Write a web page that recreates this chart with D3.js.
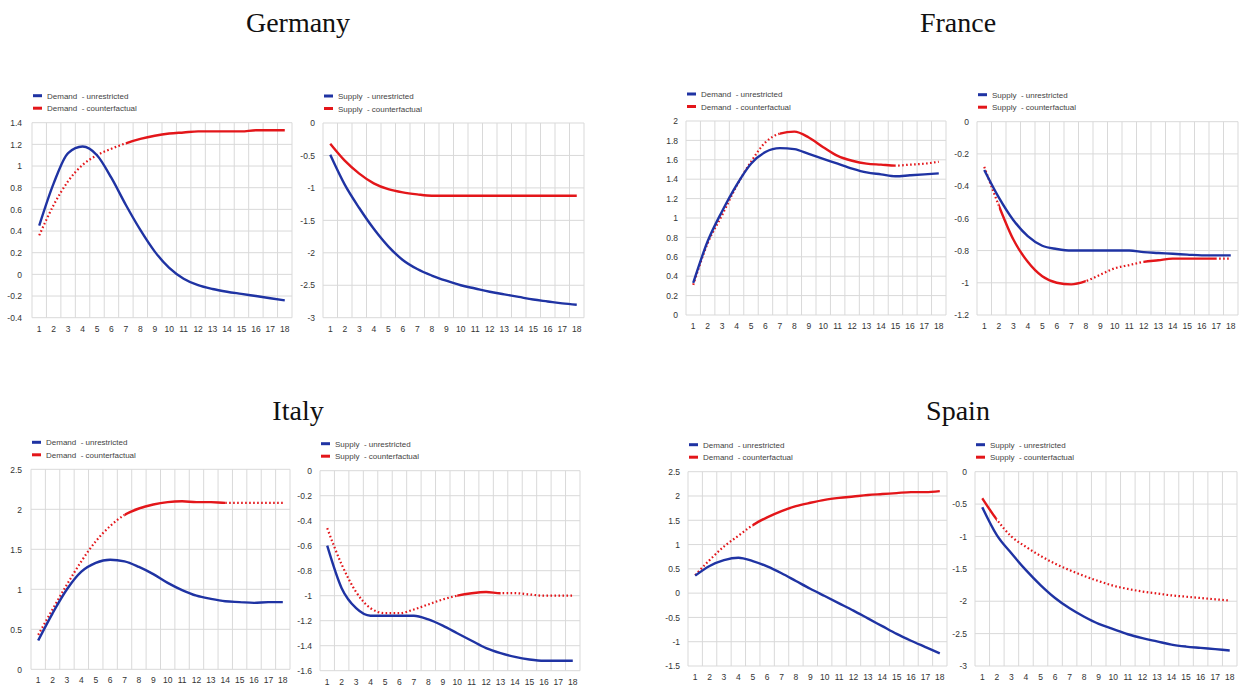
<!DOCTYPE html>
<html>
<head>
<meta charset="utf-8">
<script src="https://cdn.jsdelivr.net/npm/d3@7"></script>
<style>
  html, body { margin: 0; padding: 0; background: #fff; }
  svg { display: block; }
</style>
</head>
<body>
<svg id="chart" width="1246" height="686"></svg>
<script>
// ---------- DATA ----------
const periods = ["1","2","3","4","5","6","7","8","9","10","11","12","13","14","15","16","17","18"];

// Germany
const deDemandUnres = [0.45,0.84,1.12,1.18,1.10,0.89,0.64,0.41,0.21,0.06,-0.04,-0.10,-0.135,-0.16,-0.18,-0.20,-0.22,-0.24];
const deDemandCf    = [0.36,0.64,0.86,1.01,1.10,1.16,1.21,1.25,1.28,1.30,1.31,1.32,1.32,1.32,1.32,1.33,1.33,1.33];
const deDemandCfSolid = [[7,18]];
const deDemandTicks = [-0.4,-0.2,0,0.2,0.4,0.6,0.8,1,1.2,1.4];
const deSupplyUnres = [-0.49,-0.95,-1.31,-1.63,-1.90,-2.11,-2.25,-2.35,-2.43,-2.50,-2.55,-2.60,-2.64,-2.68,-2.72,-2.75,-2.78,-2.80];
const deSupplyCf    = [-0.32,-0.58,-0.78,-0.93,-1.02,-1.07,-1.10,-1.12,-1.12,-1.12,-1.12,-1.12,-1.12,-1.12,-1.12,-1.12,-1.12,-1.12];
const deSupplyCfSolid = [[1,18]];
const deSupplyTicks = [-3,-2.5,-2,-1.5,-1,-0.5,0];

// France
const frDemandUnres = [0.33,0.76,1.07,1.34,1.56,1.68,1.72,1.71,1.66,1.61,1.56,1.51,1.47,1.45,1.43,1.44,1.45,1.46];
const frDemandCf    = [0.31,0.74,1.03,1.33,1.58,1.78,1.87,1.89,1.83,1.73,1.64,1.59,1.56,1.55,1.54,1.55,1.56,1.58];
const frDemandCfSolid = [[7,15]];
const frDemandTicks = [0,0.2,0.4,0.6,0.8,1,1.2,1.4,1.6,1.8,2];
const frSupplyUnres = [-0.30,-0.47,-0.61,-0.71,-0.77,-0.79,-0.80,-0.80,-0.80,-0.80,-0.80,-0.81,-0.815,-0.82,-0.825,-0.83,-0.83,-0.83];
const frSupplyCf    = [-0.28,-0.52,-0.73,-0.87,-0.96,-1.00,-1.01,-0.99,-0.95,-0.91,-0.89,-0.87,-0.86,-0.85,-0.85,-0.85,-0.85,-0.85];
const frSupplyCfSolid = [[2,8],[12,17]];
const frSupplyTicks = [-1.2,-1,-0.8,-0.6,-0.4,-0.2,0];

// Italy
const itDemandUnres = [0.36,0.70,1.00,1.22,1.33,1.37,1.35,1.28,1.19,1.08,0.99,0.92,0.88,0.85,0.84,0.83,0.84,0.84];
const itDemandCf    = [0.43,0.75,1.06,1.35,1.60,1.79,1.93,2.01,2.06,2.09,2.10,2.09,2.09,2.08,2.08,2.08,2.08,2.08];
const itDemandCfSolid = [[7,14]];
const itDemandTicks = [0,0.5,1,1.5,2,2.5];
const itSupplyUnres = [-0.60,-0.94,-1.10,-1.16,-1.16,-1.16,-1.16,-1.19,-1.24,-1.30,-1.36,-1.42,-1.46,-1.49,-1.51,-1.52,-1.52,-1.52];
const itSupplyCf    = [-0.46,-0.75,-0.97,-1.10,-1.14,-1.14,-1.11,-1.07,-1.03,-1.00,-0.98,-0.97,-0.98,-0.98,-0.99,-1.00,-1.00,-1.00];
const itSupplyCfSolid = [[10,13]];
const itSupplyTicks = [-1.6,-1.4,-1.2,-1,-0.8,-0.6,-0.4,-0.2,0];

// Spain
const esDemandUnres = [0.36,0.56,0.68,0.73,0.66,0.55,0.41,0.25,0.09,-0.06,-0.21,-0.36,-0.52,-0.68,-0.84,-0.98,-1.11,-1.24];
const esDemandCf    = [0.37,0.68,0.96,1.18,1.40,1.56,1.69,1.79,1.86,1.92,1.96,1.99,2.02,2.04,2.06,2.08,2.08,2.10];
const esDemandCfSolid = [[5,18]];
const esDemandTicks = [-1.5,-1,-0.5,0,0.5,1,1.5,2,2.5];
const esSupplyUnres = [-0.55,-0.98,-1.26,-1.52,-1.75,-1.95,-2.11,-2.24,-2.35,-2.43,-2.51,-2.57,-2.62,-2.67,-2.70,-2.72,-2.74,-2.76];
const esSupplyCf    = [-0.41,-0.74,-1.00,-1.16,-1.30,-1.42,-1.52,-1.61,-1.69,-1.76,-1.81,-1.85,-1.88,-1.91,-1.93,-1.95,-1.97,-1.99];
const esSupplyCfSolid = [[1,2]];
const esSupplyTicks = [-3,-2.5,-2,-1.5,-1,-0.5,0];

const countries = ["Germany","France","Italy","Spain"];
const legendDemand = ["Demand  - unrestricted","Demand  - counterfactual"];
const legendSupply = ["Supply  - unrestricted","Supply  - counterfactual"];

// ---------- LAYOUT ----------
const BLUE = "#1f33a3";
const RED = "#e3161a";
const svg = d3.select("#chart");

const titles = [
  {text: countries[0], x: 298, y: 32},
  {text: countries[1], x: 958, y: 32},
  {text: countries[2], x: 298, y: 420},
  {text: countries[3], x: 958, y: 420}
];
svg.selectAll("text.title").data(titles).join("text")
  .attr("class","title")
  .attr("x", d => d.x).attr("y", d => d.y)
  .attr("text-anchor","middle")
  .style("font-family","'Liberation Serif','DejaVu Serif',serif")
  .style("font-size","28px")
  .style("fill","#111")
  .text(d => d.text);

const panels = [
  {box:[32,292,122.7,317.7], unres:deDemandUnres, cf:deDemandCf, solid:deDemandCfSolid, ticks:deDemandTicks, legend:legendDemand, gap:10},
  {box:[323,584,123,317.7], unres:deSupplyUnres, cf:deSupplyCf, solid:deSupplyCfSolid, ticks:deSupplyTicks, legend:legendSupply, gap:8},
  {box:[686,946,121,315], unres:frDemandUnres, cf:frDemandCf, solid:frDemandCfSolid, ticks:frDemandTicks, legend:legendDemand, gap:8},
  {box:[977,1238,121.7,315], unres:frSupplyUnres, cf:frSupplyCf, solid:frSupplyCfSolid, ticks:frSupplyTicks, legend:legendSupply, gap:8},
  {box:[31,290,469.3,669.3], unres:itDemandUnres, cf:itDemandCf, solid:itDemandCfSolid, ticks:itDemandTicks, legend:legendDemand, gap:9},
  {box:[320,580,470.7,670.7], unres:itSupplyUnres, cf:itSupplyCf, solid:itSupplyCfSolid, ticks:itSupplyTicks, legend:legendSupply, gap:8},
  {box:[688,947,471.7,666], unres:esDemandUnres, cf:esDemandCf, solid:esDemandCfSolid, ticks:esDemandTicks, legend:legendDemand, gap:8},
  {box:[975,1237,471.7,666], unres:esSupplyUnres, cf:esSupplyCf, solid:esSupplyCfSolid, ticks:esSupplyTicks, legend:legendSupply, gap:8}
];

const fmt = d => String(+(+d).toFixed(2));
const defs = svg.append("defs");

panels.forEach((p, pi) => {
  const [L, R, T, B] = p.box;
  const g = svg.append("g");
  const x = d3.scaleBand().domain(periods).range([L, R]).padding(0);
  const bw = x.bandwidth();
  const cx = c => x(c) + bw / 2;
  const y = d3.scaleLinear().domain(d3.extent(p.ticks)).range([B, T]);

  // grid
  const vx = periods.map(c => x(c)).concat([R]);
  g.selectAll("line.vg").data(vx).join("line")
    .attr("x1", d => d).attr("x2", d => d).attr("y1", T).attr("y2", B)
    .attr("stroke", "#d9d9d9").attr("stroke-width", 1);
  g.selectAll("line.hg").data(p.ticks).join("line")
    .attr("x1", L).attr("x2", R).attr("y1", d => y(d)).attr("y2", d => y(d))
    .attr("stroke", "#d9d9d9").attr("stroke-width", 1);

  // axes
  const ya = g.append("g").attr("transform", `translate(${L - p.gap},0)`)
    .call(d3.axisLeft(y).tickValues(p.ticks).tickSize(0).tickPadding(0).tickFormat(fmt));
  ya.select(".domain").remove();
  ya.selectAll("text").style("font-family","'Liberation Sans',Arial,sans-serif")
    .style("font-size","8.5px").style("fill","#333");

  const xa = g.append("g").attr("transform", `translate(0,${B + 5})`)
    .call(d3.axisBottom(x).tickSize(0).tickPadding(3));
  xa.select(".domain").remove();
  xa.selectAll("text").style("font-family","'Liberation Sans',Arial,sans-serif")
    .style("font-size","8.5px").style("fill","#333");

  // lines
  const line = d3.line().x((d, i) => cx(periods[i])).y(d => y(d)).curve(d3.curveMonotoneX);

  // clip paths for solid / dotted parts of counterfactual
  const solidId = "solid" + pi, dotId = "dot" + pi;
  const cs = defs.append("clipPath").attr("id", solidId);
  p.solid.forEach(([a, b]) => {
    const xa0 = a === 1 ? L - 5 : cx(String(a));
    const xb0 = b === 18 ? R + 5 : cx(String(b));
    cs.append("rect").attr("x", xa0).attr("y", T - 40).attr("width", xb0 - xa0).attr("height", B - T + 80);
  });
  const cd = defs.append("clipPath").attr("id", dotId);
  let edges = [L - 5];
  p.solid.forEach(([a, b]) => {
    edges.push(a === 1 ? L - 5 : cx(String(a)));
    edges.push(b === 18 ? R + 5 : cx(String(b)));
  });
  edges.push(R + 5);
  for (let k = 0; k < edges.length; k += 2) {
    if (edges[k + 1] > edges[k])
      cd.append("rect").attr("x", edges[k]).attr("y", T - 40).attr("width", edges[k + 1] - edges[k]).attr("height", B - T + 80);
  }

  g.append("path").datum(p.cf).attr("d", line)
    .attr("fill","none").attr("stroke", RED).attr("stroke-width", 2.2)
    .attr("stroke-dasharray", "1.6,2.4").attr("clip-path", `url(#${dotId})`);
  g.append("path").datum(p.cf).attr("d", line)
    .attr("fill","none").attr("stroke", RED).attr("stroke-width", 2.4)
    .attr("stroke-linejoin","round").attr("clip-path", `url(#${solidId})`);
  g.append("path").datum(p.unres).attr("d", line)
    .attr("fill","none").attr("stroke", BLUE).attr("stroke-width", 2.4)
    .attr("stroke-linejoin","round");

  // legend
  const lg = g.append("g").attr("transform", `translate(${L + 1},${T - 27})`);
  [BLUE, RED].forEach((col, i) => {
    lg.append("line").attr("x1", 0).attr("x2", 9).attr("y1", i * 12.5).attr("y2", i * 12.5)
      .attr("stroke", col).attr("stroke-width", 3);
    lg.append("text").attr("x", 14).attr("y", i * 12.5 + 3)
      .attr("xml:space","preserve").style("white-space","pre")
      .style("font-family","'Liberation Sans',Arial,sans-serif")
      .style("font-size","8px").style("fill","#444")
      .text(p.legend[i]);
  });
});
</script>
</body>
</html>
